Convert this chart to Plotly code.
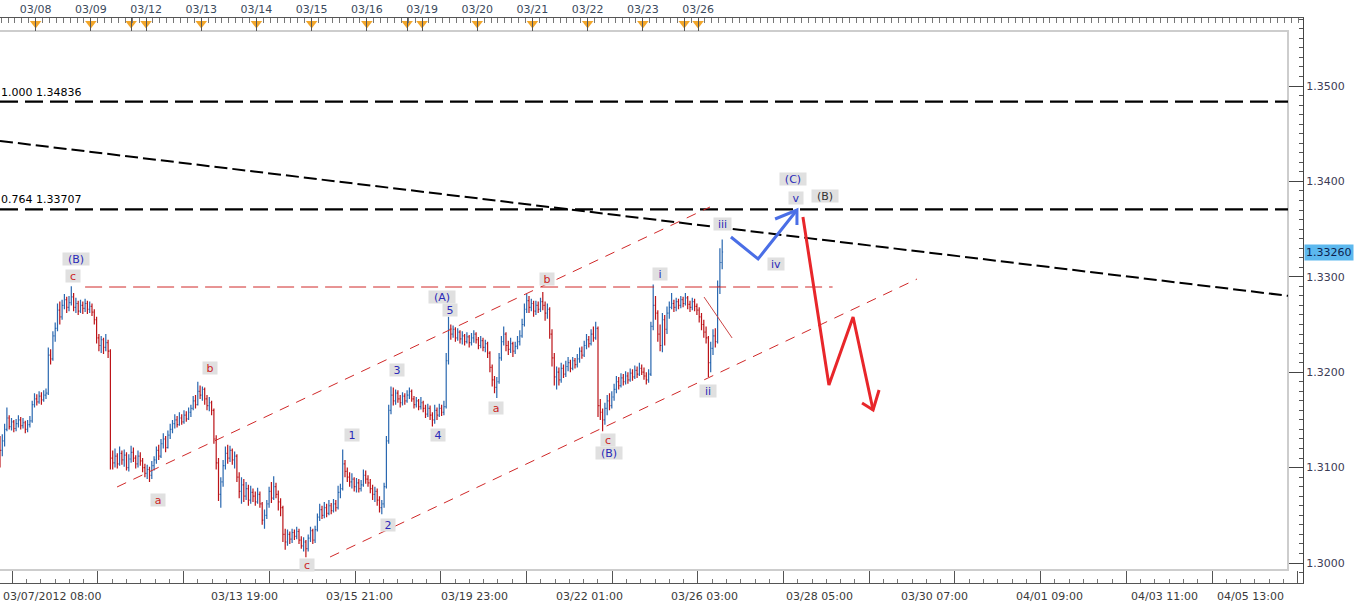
import plotly.graph_objects as go

# ---------------- data (hourly EUR/USD bars, bar index = trading hour) ----------------
closes = [
    1.3118, 1.3128, 1.3140, 1.3152, 1.3143, 1.3148, 1.3141, 1.3146, 1.3150, 1.3144,
    1.3147, 1.3140, 1.3145, 1.3149, 1.3166, 1.3172, 1.3169, 1.3175, 1.3171, 1.3176,
    1.3178, 1.3218, 1.3214, 1.3238, 1.3246, 1.3265, 1.3258, 1.3270, 1.3276, 1.3268,
    1.3273, 1.3279, 1.3268, 1.3272, 1.3264, 1.3270, 1.3267, 1.3272, 1.3266, 1.3269,
    1.3263, 1.3255, 1.3236, 1.3228, 1.3234, 1.3226, 1.3231, 1.3222, 1.3110, 1.3105,
    1.3112, 1.3104, 1.3115, 1.3108, 1.3113, 1.3100, 1.3109, 1.3116, 1.3110, 1.3104,
    1.3112, 1.3107, 1.3100, 1.3094, 1.3098, 1.3092, 1.3102, 1.3108, 1.3118, 1.3112,
    1.3125, 1.3130, 1.3121, 1.3134, 1.3140, 1.3146, 1.3150, 1.3145, 1.3152, 1.3148,
    1.3155, 1.3151, 1.3158, 1.3162, 1.3170, 1.3166, 1.3180, 1.3176, 1.3182, 1.3172,
    1.3165, 1.3168, 1.3160, 1.3130, 1.3105, 1.3072, 1.3085, 1.3102, 1.3115, 1.3110,
    1.3118, 1.3108, 1.3112, 1.3090, 1.3075, 1.3082, 1.3070, 1.3078, 1.3066, 1.3074,
    1.3070, 1.3064, 1.3072, 1.3062, 1.3045, 1.3050, 1.3062, 1.3075, 1.3068, 1.3080,
    1.3072, 1.3064, 1.3058, 1.3030, 1.3022, 1.3030, 1.3025, 1.3032, 1.3028, 1.3033,
    1.3024, 1.3018, 1.3022, 1.3015, 1.3026, 1.3034, 1.3024, 1.3035, 1.3048, 1.3056,
    1.3050, 1.3058, 1.3052, 1.3060, 1.3055, 1.3062, 1.3058, 1.3074, 1.3078, 1.3104,
    1.3096, 1.3090, 1.3085, 1.3088, 1.3080, 1.3084, 1.3078, 1.3082, 1.3092, 1.3088,
    1.3084, 1.3078, 1.3072, 1.3075, 1.3066, 1.3058, 1.3062, 1.3080, 1.3128, 1.3160,
    1.3176, 1.3170, 1.3178, 1.3172, 1.3168, 1.3175, 1.3170, 1.3176, 1.3180, 1.3172,
    1.3166, 1.3170, 1.3164, 1.3168, 1.3162, 1.3156, 1.3162, 1.3155, 1.3150, 1.3160,
    1.3155, 1.3162, 1.3158, 1.3164, 1.3212, 1.3245, 1.3240, 1.3245, 1.3236, 1.3242,
    1.3235, 1.3238, 1.3232, 1.3237, 1.3231, 1.3236, 1.3240, 1.3234, 1.3228, 1.3233,
    1.3226, 1.3230, 1.3220, 1.3205, 1.3192, 1.3184, 1.3190, 1.3215, 1.3232, 1.3240,
    1.3228, 1.3224, 1.3230, 1.3222, 1.3227, 1.3232, 1.3238, 1.3250, 1.3266, 1.3275,
    1.3268, 1.3272, 1.3264, 1.3270, 1.3266, 1.3274, 1.3270, 1.3262, 1.3266, 1.3240,
    1.3215, 1.3195, 1.3200, 1.3192, 1.3204, 1.3198, 1.3206, 1.3210, 1.3204, 1.3212,
    1.3208, 1.3214, 1.3222, 1.3218, 1.3228, 1.3234, 1.3230, 1.3240, 1.3236, 1.3246,
    1.3165, 1.3158, 1.3150, 1.3162, 1.3170, 1.3165, 1.3174, 1.3182, 1.3190, 1.3186,
    1.3194, 1.3190, 1.3196, 1.3192, 1.3199, 1.3195, 1.3202, 1.3198, 1.3204, 1.3200,
    1.3196, 1.3192, 1.3198, 1.3248, 1.3270, 1.3262, 1.3240, 1.3228, 1.3255, 1.3245,
    1.3262, 1.3268, 1.3272, 1.3268, 1.3274, 1.3270, 1.3276, 1.3272, 1.3278, 1.3271,
    1.3268, 1.3274, 1.3269, 1.3265, 1.3258, 1.3250, 1.3242, 1.3236, 1.3210, 1.3225,
    1.3238, 1.3232, 1.3290, 1.3315, 1.3326,
]
highs = [
    1.3133, 1.3135, 1.3146, 1.3163, 1.3155, 1.3152, 1.3150, 1.3151, 1.3155, 1.3153,
    1.3152, 1.3149, 1.3150, 1.3154, 1.3170, 1.3178, 1.3177, 1.3180, 1.3179, 1.3181,
    1.3183, 1.3226, 1.3224, 1.3243, 1.3252, 1.3272, 1.3274, 1.3276, 1.3282, 1.3279,
    1.3280, 1.3290, 1.3283, 1.3278, 1.3275, 1.3276, 1.3274, 1.3277, 1.3275, 1.3274,
    1.3272, 1.3266, 1.3258, 1.3240, 1.3238, 1.3236, 1.3240, 1.3234, 1.3224, 1.3118,
    1.3120, 1.3115, 1.3122, 1.3118, 1.3119, 1.3116, 1.3114, 1.3123, 1.3121, 1.3113,
    1.3118, 1.3116, 1.3110, 1.3104, 1.3103, 1.3101, 1.3107, 1.3112, 1.3122, 1.3124,
    1.3130, 1.3136, 1.3133, 1.3139, 1.3146, 1.3150, 1.3156, 1.3154, 1.3158, 1.3156,
    1.3160, 1.3159, 1.3163, 1.3166, 1.3175, 1.3176, 1.3190, 1.3186, 1.3185, 1.3184,
    1.3176, 1.3174, 1.3170, 1.3162, 1.3134, 1.3110, 1.3090, 1.3108, 1.3122, 1.3124,
    1.3123, 1.3120, 1.3117, 1.3114, 1.3095, 1.3090, 1.3088, 1.3085, 1.3082, 1.3081,
    1.3078, 1.3075, 1.3079, 1.3075, 1.3064, 1.3056, 1.3066, 1.3080, 1.3085, 1.3091,
    1.3084, 1.3076, 1.3068, 1.3060, 1.3036, 1.3035, 1.3033, 1.3036, 1.3035, 1.3038,
    1.3036, 1.3028, 1.3027, 1.3024, 1.3030, 1.3038, 1.3036, 1.3039, 1.3052, 1.3062,
    1.3060, 1.3064, 1.3062, 1.3066, 1.3063, 1.3067, 1.3066, 1.3081, 1.3083, 1.3119,
    1.3108, 1.3100, 1.3095, 1.3094, 1.3090, 1.3089, 1.3088, 1.3087, 1.3098, 1.3097,
    1.3092, 1.3088, 1.3082, 1.3080, 1.3078, 1.3070, 1.3066, 1.3084, 1.3133, 1.3166,
    1.3185, 1.3184, 1.3182, 1.3181, 1.3176, 1.3179, 1.3178, 1.3181, 1.3184, 1.3182,
    1.3175, 1.3174, 1.3172, 1.3174, 1.3170, 1.3166, 1.3167, 1.3165, 1.3158, 1.3166,
    1.3163, 1.3167, 1.3166, 1.3170, 1.3220, 1.3258, 1.3250, 1.3249, 1.3247, 1.3246,
    1.3244, 1.3243, 1.3240, 1.3242, 1.3239, 1.3241, 1.3244, 1.3242, 1.3237, 1.3238,
    1.3236, 1.3234, 1.3232, 1.3222, 1.3208, 1.3196, 1.3195, 1.3220, 1.3238, 1.3248,
    1.3242, 1.3233, 1.3236, 1.3232, 1.3232, 1.3238, 1.3244, 1.3256, 1.3272, 1.3282,
    1.3280, 1.3277, 1.3275, 1.3275, 1.3274, 1.3278, 1.3284, 1.3274, 1.3272, 1.3268,
    1.3245, 1.3220, 1.3206, 1.3205, 1.3210, 1.3208, 1.3212, 1.3216, 1.3213, 1.3216,
    1.3215, 1.3219, 1.3226, 1.3227, 1.3233, 1.3240, 1.3238, 1.3245, 1.3248, 1.3253,
    1.3248, 1.3172, 1.3162, 1.3168, 1.3176, 1.3178, 1.3180, 1.3188, 1.3196, 1.3195,
    1.3199, 1.3198, 1.3201, 1.3200, 1.3204, 1.3203, 1.3207, 1.3206, 1.3210, 1.3208,
    1.3205, 1.3200, 1.3203, 1.3253, 1.3292, 1.3280, 1.3265, 1.3250, 1.3262, 1.3260,
    1.3269, 1.3274, 1.3283, 1.3276, 1.3278, 1.3277, 1.3280, 1.3279, 1.3283, 1.3280,
    1.3275, 1.3278, 1.3277, 1.3272, 1.3268, 1.3262, 1.3255, 1.3248, 1.3238, 1.3232,
    1.3245, 1.3246, 1.3296, 1.3330, 1.3339,
]
lows = [
    1.3100, 1.3112, 1.3122, 1.3138, 1.3140, 1.3139, 1.3137, 1.3138, 1.3142, 1.3140,
    1.3141, 1.3136, 1.3137, 1.3142, 1.3147, 1.3163, 1.3165, 1.3167, 1.3166, 1.3169,
    1.3172, 1.3176, 1.3208, 1.3212, 1.3232, 1.3243, 1.3250, 1.3255, 1.3266, 1.3262,
    1.3264, 1.3270, 1.3264, 1.3262, 1.3260, 1.3262, 1.3261, 1.3263, 1.3261, 1.3262,
    1.3259, 1.3250, 1.3230, 1.3222, 1.3220, 1.3219, 1.3222, 1.3215, 1.3098, 1.3098,
    1.3100, 1.3099, 1.3102, 1.3103, 1.3101, 1.3097, 1.3096, 1.3105, 1.3106, 1.3099,
    1.3100, 1.3102, 1.3095, 1.3090, 1.3088, 1.3085, 1.3088, 1.3097, 1.3104, 1.3108,
    1.3110, 1.3120, 1.3116, 1.3120, 1.3130, 1.3136, 1.3141, 1.3142, 1.3144, 1.3145,
    1.3146, 1.3148, 1.3150, 1.3153, 1.3160, 1.3162, 1.3165, 1.3172, 1.3170, 1.3166,
    1.3160, 1.3159, 1.3155, 1.3125, 1.3098, 1.3065, 1.3058, 1.3080, 1.3098, 1.3104,
    1.3106, 1.3103, 1.3099, 1.3085, 1.3068, 1.3062, 1.3064, 1.3066, 1.3060, 1.3062,
    1.3064, 1.3060, 1.3062, 1.3058, 1.3040, 1.3036, 1.3046, 1.3058, 1.3063, 1.3066,
    1.3068, 1.3055, 1.3049, 1.3022, 1.3014, 1.3018, 1.3020, 1.3021, 1.3024, 1.3025,
    1.3020, 1.3015, 1.3012, 1.3006, 1.3012, 1.3022, 1.3020, 1.3021, 1.3033, 1.3044,
    1.3046, 1.3047, 1.3048, 1.3050, 1.3051, 1.3053, 1.3054, 1.3056, 1.3068, 1.3076,
    1.3090, 1.3085, 1.3080, 1.3078, 1.3075, 1.3074, 1.3074, 1.3075, 1.3080, 1.3083,
    1.3080, 1.3073, 1.3066, 1.3064, 1.3060, 1.3053, 1.3051, 1.3058, 1.3078, 1.3125,
    1.3156, 1.3165, 1.3166, 1.3168, 1.3163, 1.3165, 1.3166, 1.3168, 1.3172, 1.3169,
    1.3162, 1.3163, 1.3160, 1.3161, 1.3158, 1.3152, 1.3153, 1.3150, 1.3143, 1.3146,
    1.3150, 1.3153, 1.3154, 1.3155, 1.3162, 1.3208, 1.3234, 1.3236, 1.3232, 1.3233,
    1.3230, 1.3229, 1.3228, 1.3230, 1.3226, 1.3228, 1.3231, 1.3230, 1.3224, 1.3225,
    1.3222, 1.3221, 1.3215, 1.3200, 1.3185, 1.3178, 1.3173, 1.3188, 1.3212, 1.3228,
    1.3222, 1.3218, 1.3220, 1.3216, 1.3219, 1.3224, 1.3228, 1.3236, 1.3248, 1.3262,
    1.3262, 1.3264, 1.3258, 1.3260, 1.3262, 1.3263, 1.3265, 1.3254, 1.3256, 1.3235,
    1.3206, 1.3186, 1.3182, 1.3186, 1.3189, 1.3194, 1.3195, 1.3201, 1.3200, 1.3202,
    1.3204, 1.3205, 1.3210, 1.3214, 1.3216, 1.3224, 1.3226, 1.3228, 1.3232, 1.3234,
    1.3153, 1.3150, 1.3138, 1.3145, 1.3155, 1.3160, 1.3162, 1.3170, 1.3178, 1.3182,
    1.3184, 1.3186, 1.3187, 1.3188, 1.3190, 1.3191, 1.3193, 1.3194, 1.3196, 1.3197,
    1.3192, 1.3187, 1.3189, 1.3196, 1.3244, 1.3255, 1.3232, 1.3222, 1.3221, 1.3228,
    1.3240, 1.3256, 1.3266, 1.3263, 1.3264, 1.3266, 1.3267, 1.3268, 1.3270, 1.3266,
    1.3263, 1.3265, 1.3264, 1.3260, 1.3252, 1.3244, 1.3236, 1.3230, 1.3195, 1.3200,
    1.3218, 1.3226, 1.3230, 1.3282, 1.3308,
]
first_open = 1.3130
opens = [first_open] + closes[:-1]          # each hourly bar opens at the previous close
assert len(closes) == len(highs) == len(lows)
bar_index = list(range(len(closes)))
last_price = 1.33260

# top date scale (day starts) and week-start markers, in bar units
day_labels = ["03/08", "03/09", "03/12", "03/13", "03/14", "03/15", "03/16",
              "03/19", "03/20", "03/21", "03/22", "03/23", "03/26"]
day_pos = [15.5, 39.5, 63.5, 87.5, 111.5, 135.5, 159.5,
           183.5, 207.5, 231.5, 255.5, 279.5, 303.5]
week_start_pos = [57.0, 177.0, 297.5]

# bottom time labels
time_labels = ["03/07/2012 08:00", "03/13 19:00", "03/15 21:00", "03/19 23:00",
               "03/22 01:00", "03/26 03:00", "03/28 05:00", "03/30 07:00",
               "04/01 09:00", "04/03 11:00", "04/05 13:00"]
time_pos = [23.0, 106.5, 156.5, 206.5, 256.5, 306.5, 356.5, 406.5, 456.5, 506.5, 543.5]

# Fibonacci levels
fib_ratios = ["1.000", "0.764"]
fib_prices = [1.34836, 1.33707]

# drawn lines (bar, price)
trend_x, trend_y = [0, 560], [1.34424, 1.32801]
resist_x, resist_y = [37, 362], [1.32893, 1.32893]
chan_up_x, chan_up_y = [50.9, 308.7], [1.30797, 1.33732]
chan_lo_x, chan_lo_y = [143.5, 398.7], [1.30063, 1.32977]
wedge_x, wedge_y = [306.1, 318.3], [1.32788, 1.32359]
blue_path_x, blue_path_y = [317.8, 329.6, 346.5], [1.33417, 1.33187, 1.33700]
blue_head_x, blue_head_y = [337.0, 346.5, 346.5], [1.33606, 1.33700, 1.33543]
red_path_x, red_path_y = [349.1, 360.4, 370.9, 379.6], [1.33627, 1.31866, 1.32579, 1.31604]
red_head_x, red_head_y = [374.8, 379.6, 382.2], [1.31677, 1.31604, 1.31813]

# Elliott wave labels
wave_text = ["(B)", "c", "b", "a", "c", "1", "2", "3", "4", "5", "(A)", "a", "b", "c",
             "(B)", "i", "ii", "iii", "iv", "v", "(C)", "(B)"]
wave_x = [33.0, 31.7, 91.3, 68.7, 133.5, 153.0, 168.7, 172.6, 190.4, 195.7, 192.2, 215.7,
          237.8, 264.3, 264.8, 287.0, 307.8, 314.3, 337.4, 346.1, 344.8, 358.7]
wave_y = [1.33187, 1.33008, 1.32044, 1.30660, 1.29979, 1.31342, 1.30398, 1.32023, 1.31342,
          1.32652, 1.32788, 1.31625, 1.32977, 1.31289, 1.31153, 1.33029, 1.31803, 1.33553,
          1.33134, 1.33826, 1.34025, 1.33847]
wave_kind = ["blue", "red", "red", "red", "red", "blue", "blue", "blue", "blue", "blue", "blue",
             "red", "red", "red", "blue", "blue", "blue", "blue", "blue", "blue", "blue", "grey"]

# ---------------- figure ----------------
X_MAX = 1303 / 2.3
FRAME_END = 560
Y_MIN, Y_MAX = 1.297904, 1.357128
RED_LINE = "#d02828"
colors = {"blue": "#2a2ab8", "red": "#cc1f1f", "grey": "#333333"}

fig = go.Figure()


def line(x, y, color, width, dash="solid"):
    fig.add_trace(go.Scatter(x=x, y=y, mode="lines", hoverinfo="skip", showlegend=False,
                             line=dict(color=color, width=width, dash=dash)))


for p in fib_prices:
    line([0, FRAME_END], [p, p], "black", 2.2, "18px,7px")
line(trend_x, trend_y, "black", 2, "13px,5px")
line(resist_x, resist_y, RED_LINE, 1, "17px,7px")
line(chan_up_x, chan_up_y, RED_LINE, 1, "10px,8px")
line(chan_lo_x, chan_lo_y, RED_LINE, 1, "10px,8px")
line(wedge_x, wedge_y, "#cc4444", 1)

fig.add_trace(go.Ohlc(
    x=bar_index, open=opens, high=highs, low=lows, close=closes,
    increasing=dict(line=dict(color="#2a68b0", width=1.2)),
    decreasing=dict(line=dict(color="#bc1419", width=1.2)),
    tickwidth=0.4, showlegend=False, hoverinfo="skip"))

line(blue_path_x, blue_path_y, "#4a6ee6", 3)
line(blue_head_x, blue_head_y, "#4a6ee6", 3)
line(red_path_x, red_path_y, "#e8262a", 3)
line(red_head_x, red_head_y, "#e8262a", 3)

# orange triangles on the top time scale
tri_x = sorted(day_pos + week_start_pos)
fig.add_trace(go.Scatter(x=tri_x, y=[0.9903] * len(tri_x), xaxis="x2", yaxis="y2",
                         mode="markers", hoverinfo="skip", showlegend=False, cliponaxis=False,
                         marker=dict(symbol="triangle-down", size=10, color="#f2a62a",
                                     line=dict(width=0))))

top_vals = sorted(day_pos + week_start_pos)
top_text = [day_labels[day_pos.index(v)] if v in day_pos else "" for v in top_vals]

annotations = []
for t, x, y, k in zip(wave_text, wave_x, wave_y, wave_kind):
    w = 26 if t.startswith("(") else (17 if len(t) == 3 else (16 if len(t) == 2 else 14))
    annotations.append(dict(x=x, y=y, xref="x", yref="y", text=t, showarrow=False,
                            font=dict(size=11, color=colors[k]), bgcolor="#e0e0e0",
                            width=w, height=12, borderpad=0, xanchor="center", yanchor="middle"))
for r, p in zip(fib_ratios, fib_prices):
    annotations.append(dict(x=0, y=p, xref="paper", yref="y", text=f"{r} {p:.5f}",
                            showarrow=False, xanchor="left", yanchor="bottom", xshift=-1, yshift=1,
                            font=dict(size=11, color="black")))
for t, x in zip(time_labels, time_pos):
    annotations.append(dict(x=x, y=0, xref="x", yref="paper", text=t, showarrow=False,
                            xanchor="center", yanchor="top", yshift=-5,
                            font=dict(size=11, color="#3a3a3a")))
annotations.append(dict(x=1, y=last_price, xref="paper", yref="y", text=f"{last_price:.5f}",
                        showarrow=False, xanchor="left", yanchor="middle", xshift=1,
                        bgcolor="#5cb8ee", borderpad=1, font=dict(size=11, color="#0d1f4f")))

fx = 1288 / 1303
fy0, fy1 = (583 - 570) / 565, (583 - 31) / 565
shapes = [dict(type="path", xref="paper", yref="paper", layer="below",
               path=f"M 0,{fy1} L {fx},{fy1} L {fx},{fy0} L 0,{fy0}",
               line=dict(color="#cdcdcd", width=2))]

fig.update_layout(
    width=1360, height=608, autosize=False,
    margin=dict(l=0, r=57, t=18, b=25, pad=0),
    paper_bgcolor="white", plot_bgcolor="white",
    font=dict(family="DejaVu Sans, Verdana, sans-serif", size=11, color="#333"),
    showlegend=False, annotations=annotations, shapes=shapes,
    xaxis=dict(range=[0, X_MAX], showgrid=False, zeroline=False, showline=True,
               linecolor="#555", linewidth=1, ticks="inside", tick0=42.6, dtick=37.26,
               ticklen=12, tickcolor="#555", showticklabels=False,
               minor=dict(ticks="inside", tick0=42.6, dtick=6.21, ticklen=4, tickcolor="#777"),
               rangeslider=dict(visible=False), fixedrange=True),
    xaxis2=dict(range=[0, X_MAX], overlaying="x", side="top", anchor="y2", showgrid=False,
                zeroline=False, showline=True, linecolor="#555", linewidth=1,
                tickmode="array", tickvals=top_vals, ticktext=top_text, ticks="inside",
                ticklen=13, tickcolor="#555", tickfont=dict(size=11, color="#3b4a5c"),
                minor=dict(ticks="inside", tick0=15.5, dtick=3, ticklen=5, tickcolor="#777"),
                fixedrange=True),
    yaxis=dict(range=[Y_MIN, Y_MAX], side="right", showgrid=False, zeroline=False,
               showline=True, linecolor="#444", linewidth=1, ticks="inside",
               tick0=1.30, dtick=0.01, tickformat=".4f", ticklen=14, tickcolor="#444",
               tickfont=dict(size=11, color="#3c3c55"),
               minor=dict(ticks="inside", dtick=0.001, ticklen=4, tickcolor="#555"),
               fixedrange=True),
    yaxis2=dict(range=[0, 1], overlaying="y", visible=False, fixedrange=True),
)

fig.write_html(
    "out.html",
    config={"displayModeBar": False, "staticPlot": True},
    post_script="document.body.style.margin='0';document.body.style.overflow='hidden';",
)
